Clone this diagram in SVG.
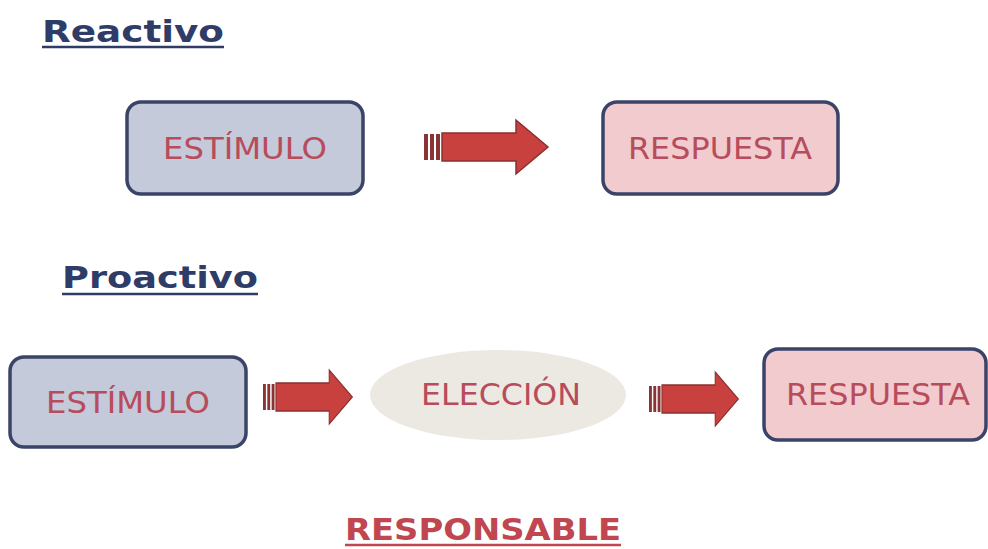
<svg xmlns="http://www.w3.org/2000/svg" width="988" height="549" viewBox="0 0 988 549">
<defs>
<style>
.head{font-family:"DejaVu Sans",Verdana,sans-serif;font-weight:bold;font-size:31px;fill:#2f3c68}
.hl{stroke:#2f3c68;stroke-width:2.5}
.box{stroke:#3a4468;stroke-width:3.5}
.blue{fill:#c4cad9}
.pink{fill:#f1cbce}
.lbl{font-family:"DejaVu Sans",Verdana,sans-serif;font-size:30px;fill:#b84c5c;text-anchor:middle}
.arrow{fill:#c8413f;stroke:#8a2f2f;stroke-width:1.5}
.bar{fill:#8a3535}
.resp{font-family:"DejaVu Sans",Verdana,sans-serif;font-weight:bold;font-size:31px;fill:#c0464f}
</style>
<g id="arr">
<rect class="bar" x="0" y="-13" width="4" height="26"/>
<rect class="bar" x="6" y="-13" width="4" height="26"/>
<rect class="bar" x="12" y="-13" width="4" height="26"/>
<path class="arrow" d="M18,-14 H92 V-27 L124,0 L92,27 V14 H18 Z"/>
</g>
</defs>
<rect width="988" height="549" fill="#ffffff"/>

<g id="title-reactivo">
<text class="head" x="42" y="42" textLength="182" lengthAdjust="spacingAndGlyphs">Reactivo</text>
<line class="hl" x1="42" y1="47" x2="224" y2="47"/>
</g>

<g id="r-estimulo">
<rect class="box blue" x="127" y="102" width="236" height="92" rx="14"/>
<text class="lbl" x="245" y="159" textLength="164" lengthAdjust="spacingAndGlyphs">ESTÍMULO</text>
</g>

<g id="r-respuesta">
<rect class="box pink" x="603" y="102" width="235" height="92" rx="14"/>
<text class="lbl" x="720" y="159" textLength="184" lengthAdjust="spacingAndGlyphs">RESPUESTA</text>
</g>

<g id="title-proactivo">
<text class="head" x="62" y="288" textLength="196" lengthAdjust="spacingAndGlyphs">Proactivo</text>
<line class="hl" x1="62" y1="294" x2="258" y2="294"/>
</g>

<g id="p-estimulo">
<rect class="box blue" x="10" y="357" width="236" height="90" rx="14"/>
<text class="lbl" x="128" y="413" textLength="164" lengthAdjust="spacingAndGlyphs">ESTÍMULO</text>
</g>

<g id="p-eleccion">
<ellipse cx="498" cy="395" rx="128" ry="45" fill="#ebe9e2"/>
<text class="lbl" x="501" y="405" textLength="160" lengthAdjust="spacingAndGlyphs">ELECCIÓN</text>
</g>

<g id="p-respuesta">
<rect class="box pink" x="764" y="349" width="222" height="91" rx="14"/>
<text class="lbl" x="878" y="405" textLength="184" lengthAdjust="spacingAndGlyphs">RESPUESTA</text>
</g>

<g id="connectors">
<use href="#arr" transform="translate(424,147)"/>
<use href="#arr" transform="translate(263,397) scale(0.72,1)"/>
<use href="#arr" transform="translate(649,399) scale(0.72,1)"/>
</g>

<g id="responsable">
<text class="resp" x="345" y="540" textLength="276" lengthAdjust="spacingAndGlyphs">RESPONSABLE</text>
<line x1="345" y1="545" x2="621" y2="545" stroke="#c0464f" stroke-width="2.5"/>
</g>
</svg>
